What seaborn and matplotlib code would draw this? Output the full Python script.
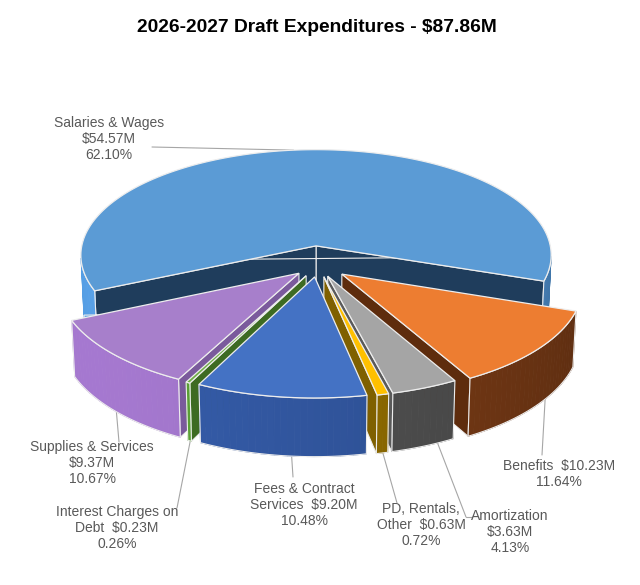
import numpy as np
import pandas as pd
import matplotlib.pyplot as plt
from matplotlib.patches import Polygon
import seaborn as sns

# slices, counter-clockwise starting at the right edge of "Salaries & Wages"
categories = ["Salaries & Wages", "Supplies & Services", "Interest Charges on Debt",
              "Fees & Contract Services", "PD, Rentals, Other", "Amortization", "Benefits"]
amounts = [54.57, 9.37, 0.23, 9.20, 0.63, 3.63, 10.23]
percents = [62.10, 10.67, 0.26, 10.48, 0.72, 4.13, 11.64]
label_names = ["Salaries & Wages\n", "Supplies & Services\n", "Interest Charges on\nDebt  ",
               "Fees & Contract\nServices  ", "PD, Rentals,\nOther  ", "Amortization\n", "Benefits  "]

top_colors = ["#5B9BD5", "#A77FCB", "#70AD47", "#4472C4", "#FFC000", "#A5A5A5", "#ED7D31"]
wall_colors = ["#4A88C4", "#8C66B0", "#4E8A2E", "#2C4D8E", "#806000", "#474747", "#6B3413"]
side_colors = ["#1F3D5C", "#7A5A9C", "#3D6B22", "#203864", "#7F6000", "#5A5A5A", "#5E2C0D"]
explode = [0.18, 0.11, 0.11, 0.11, 0.11, 0.11, 0.13]

df = pd.DataFrame({"category": categories, "amount": amounts, "percent": percents,
                   "name": label_names, "top": top_colors, "wall": wall_colors,
                   "side": side_colors, "explode": explode})

sns.set_theme(style="white")
plt.rcParams["font.family"] = ["Liberation Sans", "DejaVu Sans"]

ELEV = np.radians(27)
DIST = 10.0
SCALE = 238
CX, CY = 318, 265
H = 0.26
START = -19.1
CAM = np.array([0.0, -DIST * np.cos(ELEV), DIST * np.sin(ELEV)])


def project(x, y, z):
    v = y * np.sin(ELEV) + z * np.cos(ELEV)
    w = y * np.cos(ELEV) - z * np.sin(ELEV)
    s = DIST / (DIST + w)
    return CX + SCALE * x * s, CY - SCALE * v * s


def poly(pts):
    return [project(*p) for p in pts]


def facing(point, normal):
    return np.dot(CAM - np.asarray(point), np.asarray(normal)) > 0


def shade(color, f):
    rgb = np.array(plt.matplotlib.colors.to_rgb(color))
    return tuple(np.clip(rgb * f, 0, 1))


fig = plt.figure(figsize=(6.4, 5.85), dpi=100)
ax = fig.add_axes([0, 0, 1, 1])
ax.set_xlim(0, 640)
ax.set_ylim(585, 0)
ax.axis("off")

angles = START + np.concatenate([[0], np.cumsum(df["percent"].values)]) * 3.6
df["t1"] = angles[:-1]
df["t2"] = angles[1:]
df["mid"] = (df["t1"] + df["t2"]) / 2
df["ox"] = df["explode"] * np.cos(np.radians(df["mid"]))
df["oy"] = df["explode"] * np.sin(np.radians(df["mid"]))
df["depth"] = (df["oy"] + 0.6 * np.sin(np.radians(df["mid"])))

edge = "#EDEDED"
for _, r in df.sort_values("depth", ascending=False).iterrows():
    ox, oy = r["ox"], r["oy"]
    span = r["t2"] - r["t1"]
    th = np.radians(np.linspace(r["t1"], r["t2"], max(3, int(span / 1.5) + 2)))
    t1, t2 = np.radians(r["t1"]), np.radians(r["t2"])

    # radial cut faces
    for t, n in [(t1, (np.sin(t1), -np.cos(t1), 0)), (t2, (-np.sin(t2), np.cos(t2), 0))]:
        mid_pt = (ox + 0.5 * np.cos(t), oy + 0.5 * np.sin(t), -H / 2)
        if facing(mid_pt, n):
            pts = [(ox, oy, 0), (ox + np.cos(t), oy + np.sin(t), 0),
                   (ox + np.cos(t), oy + np.sin(t), -H), (ox, oy, -H)]
            ax.add_patch(Polygon(poly(pts), closed=True, facecolor=r["side"],
                                 edgecolor=edge, lw=0.8, zorder=2))

    # outer curved wall
    vis = []
    for a, b in zip(th[:-1], th[1:]):
        m = (a + b) / 2
        p = (ox + np.cos(m), oy + np.sin(m), -H / 2)
        if facing(p, (np.cos(m), np.sin(m), 0)):
            f = 1.0 + 0.18 * np.cos(m - np.radians(215))
            pts = [(ox + np.cos(a), oy + np.sin(a), 0), (ox + np.cos(b), oy + np.sin(b), 0),
                   (ox + np.cos(b), oy + np.sin(b), -H), (ox + np.cos(a), oy + np.sin(a), -H)]
            c = shade(r["wall"], f)
            ax.add_patch(Polygon(poly(pts), closed=True, facecolor=c, edgecolor=c,
                                 lw=0.6, zorder=2))
            vis.append((a, b))
    if vis:
        arc = [vis[0][0]] + [b for _, b in vis]
        top_line = [(ox + np.cos(a), oy + np.sin(a), 0) for a in arc]
        bot_line = [(ox + np.cos(a), oy + np.sin(a), -H) for a in arc[::-1]]
        ax.add_patch(Polygon(poly(top_line + bot_line), closed=True, facecolor="none",
                             edgecolor=edge, lw=0.8, zorder=2))

    # top face
    pts = [(ox, oy, 0)] + [(ox + np.cos(t), oy + np.sin(t), 0) for t in th]
    ax.add_patch(Polygon(poly(pts), closed=True, facecolor=r["top"],
                         edgecolor=edge, lw=0.9, zorder=3))

# labels: text centre, leader end near the text, anchor angle and height on the slice
label_pos = {
    "Salaries & Wages": (109, 139, (152, 147), 96, 0),
    "Supplies & Services": (92, 463, (119, 442), 224, -H),
    "Interest Charges on Debt": (117, 528, (177, 508), 243.5, -H),
    "Fees & Contract Services": (304, 505, (293, 477), 265, -H),
    "PD, Rentals, Other": (421, 525, (397, 503), 283, -H),
    "Amortization": (510, 532, (466, 517), 295, -H),
    "Benefits": (559, 474, (542, 455), 324, -H),
}
for _, r in df.iterrows():
    tx, ty, (lx, ly), a, z = label_pos[r["category"]]
    a = np.radians(a)
    ax_, ay_ = project(r["ox"] + np.cos(a), r["oy"] + np.sin(a), z)
    ax.plot([lx, ax_], [ly, ay_], color="#A6A6A6", lw=0.8, zorder=1)
    if r["category"] == "Amortization":
        ax.plot([lx, lx + 6], [ly, ly], color="#A6A6A6", lw=0.8, zorder=1)
    text = f"{r['name']}${r['amount']:.2f}M\n{r['percent']:.2f}%"
    ax.text(tx, ty, text, ha="center", va="center", fontsize=10, color="#595959",
            linespacing=1.15, zorder=4)

ax.text(317, 28, "2026-2027 Draft Expenditures - $87.86M", ha="center", va="center",
        fontsize=13.8, fontweight="bold", color="black")

fig.savefig("out.png", dpi=100)
